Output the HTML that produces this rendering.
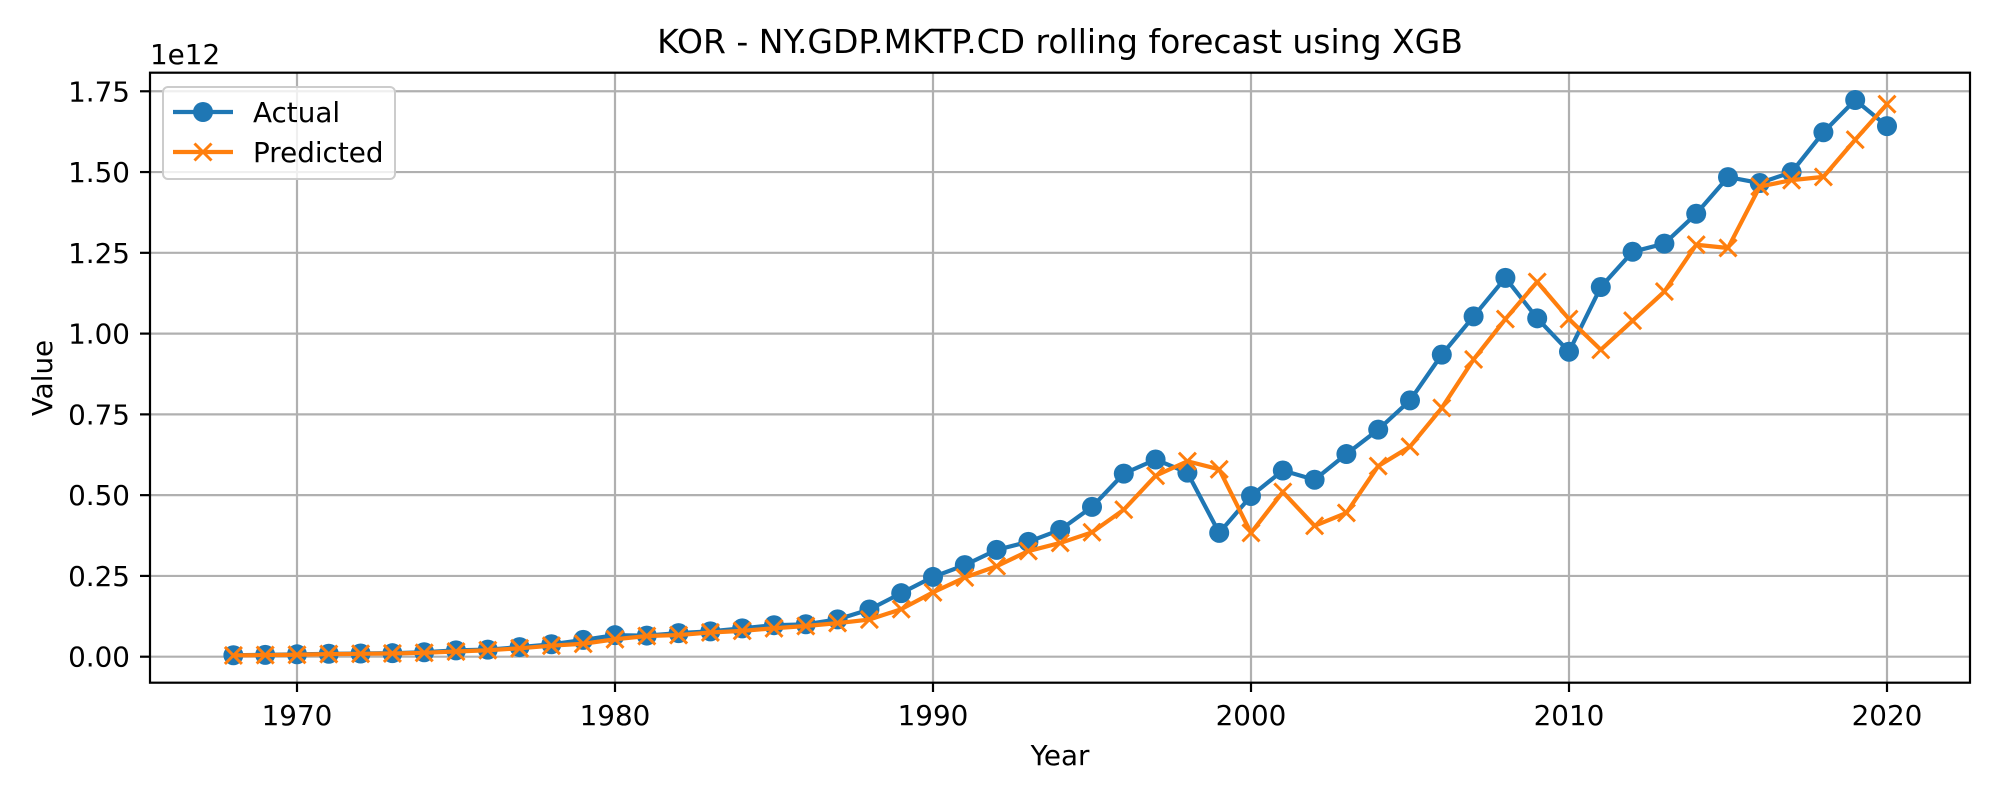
<!DOCTYPE html>
<html><head><meta charset="utf-8"><style>
html,body{margin:0;padding:0;background:#fff;}
svg{display:block;font-family:"DejaVu Sans","Liberation Sans",sans-serif;}
</style></head><body>
<svg id="chart" width="2000" height="800" viewBox="0 0 2000 800">
<text x="1060" y="53" font-size="33" text-anchor="middle">KOR - NY.GDP.MKTP.CD rolling forecast using XGB</text>
<g id="grid"></g>
<g id="series"></g>
<rect x="150" y="72.7" width="1820" height="610" fill="none" stroke="#000" stroke-width="2.2"/>
<g id="ticks"></g>
<text x="150" y="64" font-size="27.8">1e12</text>
<text x="1060" y="765" font-size="27.8" text-anchor="middle">Year</text>
<text x="52" y="378" font-size="27.8" text-anchor="middle" transform="rotate(-90 52 378)">Value</text>
<g>
<rect x="163" y="87" width="232" height="92" rx="5" fill="#fff" fill-opacity="0.8" stroke="#ccc" stroke-width="2"/>
<g>
<line x1="173" y1="112" x2="233" y2="112" stroke="#1f77b4" stroke-width="4.2"/>
<circle cx="203" cy="112" r="10" fill="#1f77b4"/>
<text x="253" y="122" font-size="27.8">Actual</text></g>
<g>
<line x1="173" y1="152" x2="233" y2="152" stroke="#ff7f0e" stroke-width="4.2"/>
<path d="M194.5 143.5 L211.5 160.5 M211.5 143.5 L194.5 160.5" stroke="#ff7f0e" stroke-width="3"/>
<text x="253" y="162" font-size="27.8">Predicted</text></g>
</g>
</svg>
<script>
const years = [];
for (let y = 1968; y <= 2020; y++) years.push(y);
const actual = [0.0046,0.0058,0.0074,0.0090,0.0099,0.0109,0.0139,0.0195,0.0218,0.0298,0.0384,0.0520,0.0666,0.0654,0.0729,0.0784,0.0877,0.0975,0.1003,0.1155,0.1461,0.1966,0.2469,0.2834,0.3306,0.3555,0.3927,0.4636,0.5666,0.6102,0.5698,0.3833,0.4975,0.5762,0.5477,0.6272,0.7027,0.7932,0.9349,1.0532,1.1726,1.0473,0.9439,1.1441,1.2532,1.2784,1.3708,1.4843,1.4660,1.4997,1.6231,1.7230,1.6420];
const predicted = [0.004,0.005,0.006,0.008,0.009,0.010,0.012,0.016,0.020,0.026,0.034,0.040,0.054,0.064,0.067,0.075,0.080,0.088,0.095,0.104,0.115,0.147,0.199,0.245,0.280,0.327,0.352,0.385,0.455,0.560,0.605,0.580,0.383,0.510,0.405,0.445,0.590,0.650,0.770,0.920,1.045,1.160,1.045,0.950,1.040,1.130,1.275,1.265,1.455,1.475,1.485,1.600,1.710];
const xTicks = [1970,1980,1990,2000,2010,2020];
const yTicks = [0,0.25,0.5,0.75,1.0,1.25,1.5,1.75];
const yTickLabels = ["0.00","0.25","0.50","0.75","1.00","1.25","1.50","1.75"];

const X = yr => 297 + (yr - 1970) * 31.8;
const Y = v => 656.7 - v * 323.1;
const NS = "http://www.w3.org/2000/svg";
function mk(tag, attrs, parent){const e=document.createElementNS(NS,tag);for(const k in attrs)e.setAttribute(k,attrs[k]);parent.appendChild(e);return e;}
const grid=document.getElementById('grid'), ticks=document.getElementById('ticks'), series=document.getElementById('series');

xTicks.forEach(t=>{
  const g=mk('line',{x1:X(t),x2:X(t),y1:72.7,y2:682.7,stroke:'#b0b0b0','stroke-width':2.2},grid);
  
  
  const tk=mk('line',{x1:X(t),x2:X(t),y1:682.7,y2:692,stroke:'#000','stroke-width':2.2},ticks);
  
  
  const tx=mk('text',{x:X(t),y:725,'font-size':27.8,'text-anchor':'middle'},ticks);
  tx.textContent=t;
  
  
});
yTicks.forEach((t,i)=>{
  const g=mk('line',{x1:150,x2:1970,y1:Y(t),y2:Y(t),stroke:'#b0b0b0','stroke-width':2.2},grid);
  
  
  const tk=mk('line',{x1:140,x2:150,y1:Y(t),y2:Y(t),stroke:'#000','stroke-width':2.2},ticks);
  
  
  const tx=mk('text',{x:130,y:Y(t)+10,'font-size':27.8,'text-anchor':'end'},ticks);
  tx.textContent=yTickLabels[i];
  
  
});

const pa=mk('polyline',{points:years.map((y,i)=>X(y)+','+Y(actual[i])).join(' '),fill:'none',stroke:'#1f77b4','stroke-width':4.2,'stroke-linejoin':'round'},series);


years.forEach((y,i)=>{
  const c=mk('circle',{cx:X(y),cy:Y(actual[i]),r:10,fill:'#1f77b4'},series);
  
  
});
const pp=mk('polyline',{points:years.map((y,i)=>X(y)+','+Y(predicted[i])).join(' '),fill:'none',stroke:'#ff7f0e','stroke-width':4.2,'stroke-linejoin':'round'},series);


years.forEach((y,i)=>{
  const cx=X(y), cy=Y(predicted[i]);
  const m=mk('path',{d:`M${cx-8.5} ${cy-8.5}L${cx+8.5} ${cy+8.5}M${cx+8.5} ${cy-8.5}L${cx-8.5} ${cy+8.5}`,stroke:'#ff7f0e','stroke-width':3},series);
  
  
});
</script>
</body></html>
